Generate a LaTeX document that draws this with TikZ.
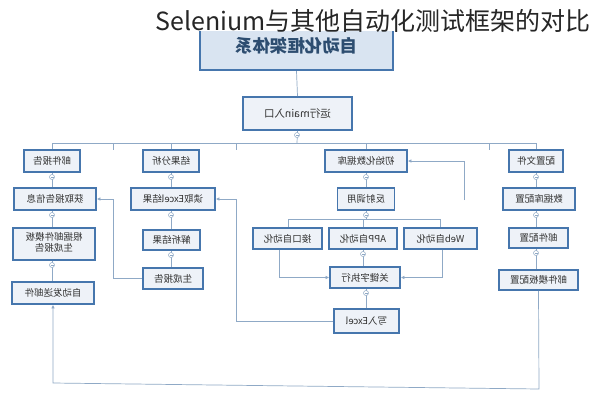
\documentclass[tikz,border=0pt]{standalone}
\usepackage{fontspec}
\usepackage{graphicx}
\newfontfamily\cjk{Noto Sans CJK SC}
\usetikzlibrary{arrows.meta}
\definecolor{bb}{HTML}{4676AD}
\definecolor{bf}{HTML}{EEF2F8}
\definecolor{tf}{HTML}{D9E4F1}
\definecolor{tx}{HTML}{333333}
\definecolor{lnc}{HTML}{8FA9C6}
\tikzset{
 bx/.style={draw=bb,line width=1.8pt,fill=bf,inner sep=0pt,text=tx,font=\cjk\fontsize{9.5}{12}\selectfont,align=center,minimum height=22pt},
 cn/.style={draw=lnc,line width=0.7pt},
 arr/.style={cn,-{Latex[length=3.5pt,width=3.5pt]}},
 knob/.style={circle,draw=lnc,fill=white,line width=0.5pt,minimum size=5pt,inner sep=0pt,
   path picture={\draw[lnc,line width=0.5pt] ([xshift=-1.5pt]path picture bounding box.center)--([xshift=1.5pt]path picture bounding box.center);}},
}
\newcommand\mir[1]{\reflectbox{#1}}
\begin{document}
\begin{tikzpicture}[x=1pt,y=-1pt]
\useasboundingbox (0,0) rectangle (594,400);
\fill[white] (0,0) rectangle (594,400);

% top and main
\node[bx,fill=tf,line width=2.2pt,minimum width=193pt,minimum height=48pt,text=bb!65!black,font=\cjk\bfseries\fontsize{17.5}{19}\selectfont] (top) at (296.5,46) {\raisebox{-3pt}{\mir{自动化框架体系}}};
\node[bx,minimum width=109pt,minimum height=33pt,font=\cjk\fontsize{10.5}{12}\selectfont] (main) at (297.5,113.5) {\mir{运行main入口}};

% row 1
\node[bx,minimum width=56pt] (mail) at (52,161) {\mir{邮件报告}};
\node[bx,minimum width=56pt] (res) at (171,161) {\mir{结果分析}};
\node[bx,minimum width=82pt] (init) at (366,161) {\mir{初始化数据库}};
\node[bx,minimum width=54pt] (conf) at (536,161) {\mir{配置文件}};
% row 2
\node[bx,minimum width=82pt] (get) at (55,199) {\mir{获取报告信息}};
\node[bx,minimum width=84pt] (rdx) at (173,199) {\mir{读取Excel结果}};
\node[bx,minimum width=57pt] (refl) at (366,199) {\mir{反射调用}};
\node[bx,minimum width=72pt] (dbc) at (539,199) {\mir{数据库配置}};
% row 3
\node[bx,minimum width=82pt,minimum height=32pt] (tpl) at (54,244) {\mir{\begin{tabular}{@{}c@{}}根据邮件模板\\[-1pt]生成报告\end{tabular}}};
\node[bx,minimum width=57pt,minimum height=20pt] (parse) at (171.5,240) {\mir{解析结果}};
\node[bx,minimum width=69pt,minimum height=21pt] (api) at (287.5,238.5) {\mir{接口自动化}};
\node[bx,minimum width=68pt,minimum height=21pt] (app) at (363,238.5) {\mir{APP自动化}};
\node[bx,minimum width=73pt,minimum height=21pt] (web) at (440.5,238.5) {\mir{Web自动化}};
\node[bx,minimum width=59pt,minimum height=20pt] (mcf) at (538.5,238) {\mir{邮件配置}};
% row 4
\node[bx,minimum width=82pt] (auto) at (53,293) {\mir{自动发送邮件}};
\node[bx,minimum width=60pt,minimum height=21pt] (gen) at (173,278.5) {\mir{生成报告}};
\node[bx,minimum width=70pt,minimum height=21pt] (kw) at (365,277.5) {\mir{关键字执行}};
\node[bx,minimum width=79pt,minimum height=20pt] (mtc) at (538.5,280) {\mir{邮件模板配置}};
% row 5
\node[bx,minimum width=65pt,minimum height=24pt] (wx) at (366.5,321) {\mir{写入Excel}};

% title
\fill[white] (140,0) rectangle (594,31);
\node[anchor=east,inner sep=0pt,text=black!85,font=\cjk\fontsize{25}{28}\selectfont] (title) at (591,21) {Selenium与其他自动化测试框架的对比};

% connectors: trunk
\draw[cn] (top.south) -- (main.north);
\draw[cn] (main.south) -- (297,143);
\draw[cn] (mail.north) |- (conf.north |- 0,143) -- (conf.north);
\draw[cn] (res.north) -- (res.north |- 0,143);
\draw[cn] (init.north) -- (init.north |- 0,143);
\draw[cn] (113,143) -- (113,150);
\draw[cn] (236,143) -- (236,150);
\draw[cn] (489,143) -- (489,150);

% columns
\draw[cn] (mail.south -| 52,0) -- (get.north -| 52,0);
\draw[cn] (get.south -| 52,0) -- (tpl.north -| 52,0);
\draw[cn] (tpl.south -| 52,0) -- (auto.north -| 52,0);
\draw[cn] (res.south) -- (rdx.north -| res.south);
\draw[cn] (rdx.south -| res.south) -- (parse.north -| res.south);
\draw[cn] (parse.south -| res.south) -- (gen.north -| res.south);
\draw[cn] (init.south) -- (refl.north);
\draw[cn] (refl.south) -- (366,219);
\draw[cn] (api.north -| 288,0) |- (web.north |- 0,219) -- (web.north);
\draw[cn] (app.north) -- (app.north |- 0,219);
\draw[cn] (app.south) -- (kw.north -| app.south);
\draw[cn] (kw.south -| wx.north) -- (wx.north);
\draw[cn] (conf.south) -- (dbc.north -| conf.south);
\draw[cn] (dbc.south -| conf.south) -- (mcf.north -| conf.south);
\draw[cn] (mcf.south -| conf.south) -- (mtc.north -| conf.south);

% feedback arrows
\draw[arr] (gen.west) -- (113,278.5) |- (get.east);
\draw[arr] (wx.west) -- (236,321) |- (rdx.east);
\draw[arr] (api.south -| 279,0) |- (kw.west);
\draw[arr] (web.south -| 442,0) |- (kw.east);
\coordinate (fe) at (464,200);
\draw[arr] (fe) |- (init.east);
\draw[arr] (mtc.south) -- (539,389) -- (53,383) -- (auto.south);

% collapse knobs
\foreach \p in {(52,177),(52,215),(52,265),(171,177),(171,215),(171,255),(366,177),(366,215),(363,254),(366,293),(536,177),(536,215),(536,253)}
  \node[knob] at \p {};
\node[knob] at (297,135) {};
\end{tikzpicture}
\end{document}
